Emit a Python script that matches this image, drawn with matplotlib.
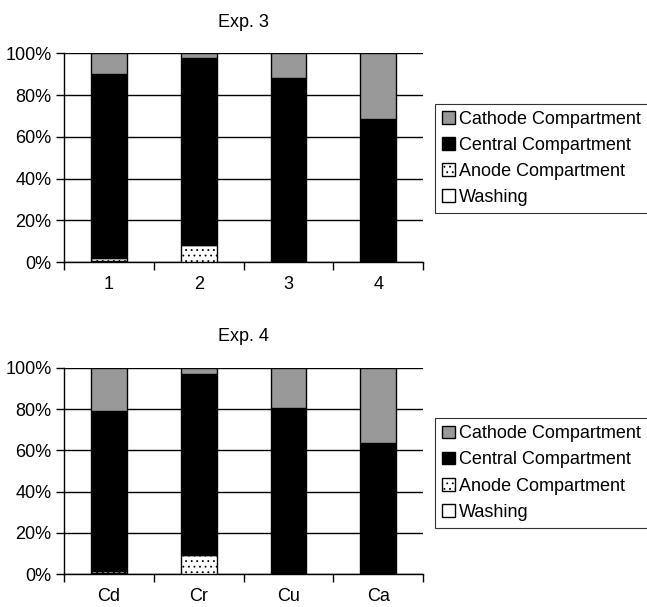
import matplotlib
matplotlib.use("Agg")
import matplotlib.pyplot as plt
import numpy as np

plt.rcParams['font.family'] = ['Liberation Sans', 'DejaVu Sans']
plt.rcParams['hatch.color'] = '#a0a0a0'
plt.rcParams['hatch.linewidth'] = 0.6

series = ["Washing", "Anode Compartment", "Central Compartment", "Cathode Compartment"]

exp3_labels = ["1", "2", "3", "4"]
exp3_washing = [0.5, 0.0, 0.0, 0.0]
exp3_anode = [1.5, 8.1, 0.0, 0.0]
exp3_central = [88.3, 89.6, 88.2, 68.8]
exp3_cathode = [9.7, 2.3, 11.8, 31.2]

exp4_labels = ["Cd", "Cr", "Cu", "Ca"]
exp4_washing = [0.5, 0.0, 0.0, 0.0]
exp4_anode = [1.2, 9.3, 0.0, 0.0]
exp4_central = [77.3, 87.9, 80.6, 63.4]
exp4_cathode = [21.0, 2.8, 19.4, 36.6]

yticks = [0, 20, 40, 60, 80, 100]
ytick_labels = ["0%", "20%", "40%", "60%", "80%", "100%"]

FS = 13
styles = {
    "Washing": dict(facecolor="white", hatch=None),
    "Anode Compartment": dict(facecolor="white", hatch="..."),
    "Central Compartment": dict(facecolor="black", hatch=None),
    "Cathode Compartment": dict(facecolor="#999999", hatch=None),
}

fig = plt.figure(figsize=(6.47, 6.07), dpi=100)


def draw(ax, title, labels, data, legend_top):
    x = np.arange(1, len(labels) + 1)
    bottom = np.zeros(len(labels))
    handles = {}
    for name in series:
        vals = np.array(data[name])
        st = styles[name]
        b = ax.bar(x, vals, 0.4, bottom=bottom, color=st["facecolor"],
                   edgecolor="black", linewidth=1.0, hatch=st["hatch"],
                   zorder=3, label=name)
        handles[name] = b
        bottom = bottom + vals
    ax.set_xlim(0.5, len(labels) + 0.5)
    ax.set_ylim(0, 100)
    ax.set_yticks(yticks)
    ax.set_yticklabels(ytick_labels, fontsize=FS)
    ax.set_xticks(x)
    ax.set_xticklabels(labels, fontsize=FS)
    ax.set_xticks(np.arange(0.5, len(labels) + 1, 1.0), minor=True)
    ax.tick_params(axis='x', which='major', length=0, pad=10)
    ax.tick_params(axis='x', which='minor', length=6, width=1, direction='out')
    ax.tick_params(axis='y', length=6, width=1, direction='out', pad=3)
    ax.yaxis.grid(True, color='black', linewidth=1.0, zorder=0)
    ax.set_axisbelow(True)
    for s in ['top', 'right']:
        ax.spines[s].set_visible(False)
    for s in ['left', 'bottom']:
        ax.spines[s].set_linewidth(1.0)
    ax.set_title(title, fontsize=FS, pad=19)
    order = ["Cathode Compartment", "Central Compartment", "Anode Compartment", "Washing"]
    leg = fig.legend([handles[n] for n in order], order, loc='upper left',
                     bbox_to_anchor=(0.672, legend_top), fontsize=FS,
                     frameon=True, fancybox=False, edgecolor='black',
                     handlelength=0.7, handleheight=0.7, handletextpad=0.25,
                     labelspacing=0.5, borderpad=0.4, borderaxespad=0)
    leg.get_frame().set_linewidth(0.8)


ax1 = fig.add_axes([0.099, 0.568, 0.555, 0.344])
draw(ax1, "Exp. 3", exp3_labels,
     {"Washing": exp3_washing, "Anode Compartment": exp3_anode,
      "Central Compartment": exp3_central, "Cathode Compartment": exp3_cathode},
     0.829)

ax2 = fig.add_axes([0.099, 0.054, 0.555, 0.340])
draw(ax2, "Exp. 4", exp4_labels,
     {"Washing": exp4_washing, "Anode Compartment": exp4_anode,
      "Central Compartment": exp4_central, "Cathode Compartment": exp4_cathode},
     0.311)

fig.savefig("out.png", dpi=100)
